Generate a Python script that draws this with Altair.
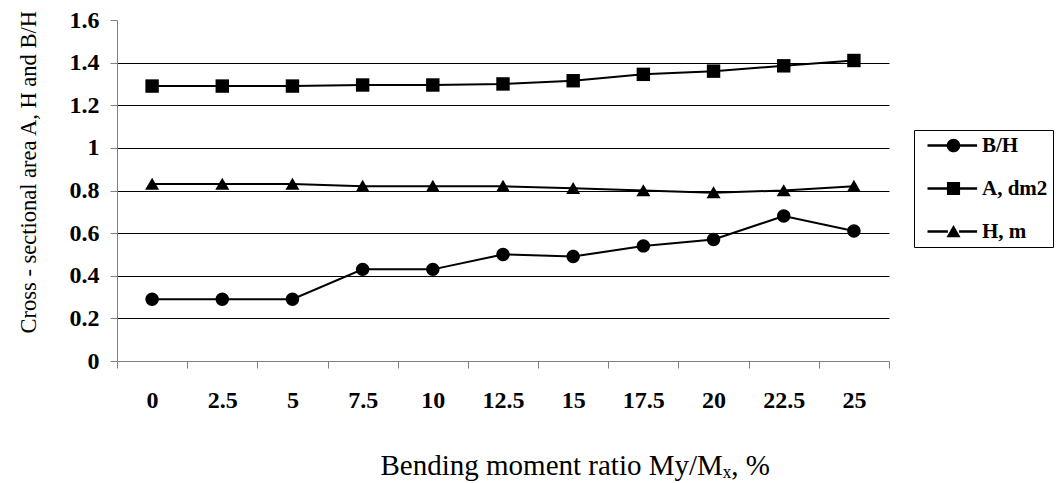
import altair as alt
import pandas as pd

# ---- data ----
ratios = ["0", "2.5", "5", "7.5", "10", "12.5", "15", "17.5", "20", "22.5", "25"]
bh_values = [0.29, 0.29, 0.29, 0.43, 0.43, 0.50, 0.49, 0.54, 0.57, 0.68, 0.61]
area_values = [1.29, 1.29, 1.29, 1.295, 1.295, 1.30, 1.315, 1.345, 1.36, 1.385, 1.41]
h_values = [0.83, 0.83, 0.83, 0.82, 0.82, 0.82, 0.81, 0.80, 0.79, 0.80, 0.82]
series_names = ["B/H", "A, dm2", "H, m"]
y_ticks = [0, 0.2, 0.4, 0.6, 0.8, 1.0, 1.2, 1.4, 1.6]

rows = []
for name, vals in zip(series_names, [bh_values, area_values, h_values]):
    for i, (r, v) in enumerate(zip(ratios, vals)):
        rows.append({"ratio": r, "idx": i, "value": v, "series": name})
df = pd.DataFrame(rows)

# marker shapes for the data points (unit = sqrt(size)/2)
point_shapes = [
    "M1,0A1,1 0 1,1 -1,0A1,1 0 1,1 1,0Z",
    "M-1,-1H1V1H-1Z",
    "M0,-0.95L1.05,0.85L-1.05,0.85Z",
]
# legend symbols: line with marker (unit = 8 px)
legend_shapes = [
    "M-0.25,-0.16H2.3V0.16H-0.25Z M3.7,-0.16H5.95V0.16H3.7Z "
    "M3.85,0A0.85,0.85 0 1,1 2.15,0A0.85,0.85 0 1,1 3.85,0Z",
    "M-0.25,-0.16H2.3V0.16H-0.25Z M3.7,-0.16H5.95V0.16H3.7Z "
    "M2.18,-0.82H3.82V0.82H2.18Z",
    "M-0.25,-0.16H2.3V0.16H-0.25Z M3.7,-0.16H5.95V0.16H3.7Z "
    "M3,-0.82L3.88,0.72L2.12,0.72Z",
]

FONT = "Liberation Serif"

x_enc = alt.X(
    "ratio:O",
    sort=ratios,
    scale=alt.Scale(type="band", domain=ratios, paddingInner=0, paddingOuter=0),
    axis=alt.Axis(
        title="Bending moment ratio My/Mₓ, %",
        labelAngle=0,
        tickBand="extent",
        labelFontSize=24,
        labelPadding=20,
        titleFontSize=29,
        titleAlign="left",
        titleBaseline="alphabetic",
        titleX=263,
        titleY=113,
        grid=False,
    ),
)
y_enc = alt.Y(
    "value:Q",
    scale=alt.Scale(domain=[0, 1.6], nice=False),
    axis=alt.Axis(
        title="Cross - sectional area A, H and B/H",
        values=y_ticks,
        format=".1~f",
        labelFontSize=24,
        labelPadding=11,
        titleFontSize=22.5,
        titleAngle=270,
        titleAlign="left",
        titleBaseline="alphabetic",
        titleX=-82,
        titleY=313,
        grid=True,
        gridOpacity={"condition": {"test": "datum.value > 1.55 || datum.value < 0.05", "value": 0}, "value": 1},
    ),
)

base = alt.Chart(df)

lines = base.mark_line(color="black", strokeWidth=2).encode(
    x=x_enc, y=y_enc, detail="series:N", order="idx:Q"
)

points = base.mark_point(filled=True, color="black", opacity=1, strokeWidth=0, size=180).encode(
    x=x_enc,
    y=y_enc,
    shape=alt.Shape(
        "series:N",
        scale=alt.Scale(domain=series_names, range=point_shapes),
        legend=None,
    ),
)

legend_layer = base.transform_filter("false").mark_point(
    filled=True, color="black", opacity=1, strokeWidth=0
).encode(
    x=x_enc,
    y=y_enc,
    shape=alt.Shape(
        "series:N",
        scale=alt.Scale(domain=series_names, range=legend_shapes),
        legend=alt.Legend(
            title=None,
            orient="none",
            legendX=797,
            legendY=110,
            symbolSize=256,
            symbolStrokeWidth=0,
            labelOffset=42,
            rowPadding=21,
            padding=5,
            strokeColor="black",
            fillColor="white",
            labelFont=FONT,
            labelFontSize=21,
            labelFontWeight="bold",
            labelColor="black",
            labelLimit=400,
            labelExpr="datum.label + '            '",
        ),
    ),
)

chart = (
    alt.layer(lines, points, legend_layer)
    .resolve_scale(shape="independent")
    .properties(
        width=772,
        height=341,
        autosize=alt.AutoSizeParams(type="none"),
        padding={"left": 109, "top": 12, "right": 166, "bottom": 122},
        background="white",
    )
    .configure_view(stroke="transparent")
    .configure_axis(
        labelFont=FONT,
        labelFontWeight="bold",
        labelColor="black",
        titleFont=FONT,
        titleFontWeight="normal",
        titleColor="black",
        domainColor="#808080",
        tickColor="#808080",
        tickSize=7,
        gridColor="black",
        gridWidth=1,
    )
)

chart.save("out.html", embed_options={"renderer": "svg", "actions": False})
